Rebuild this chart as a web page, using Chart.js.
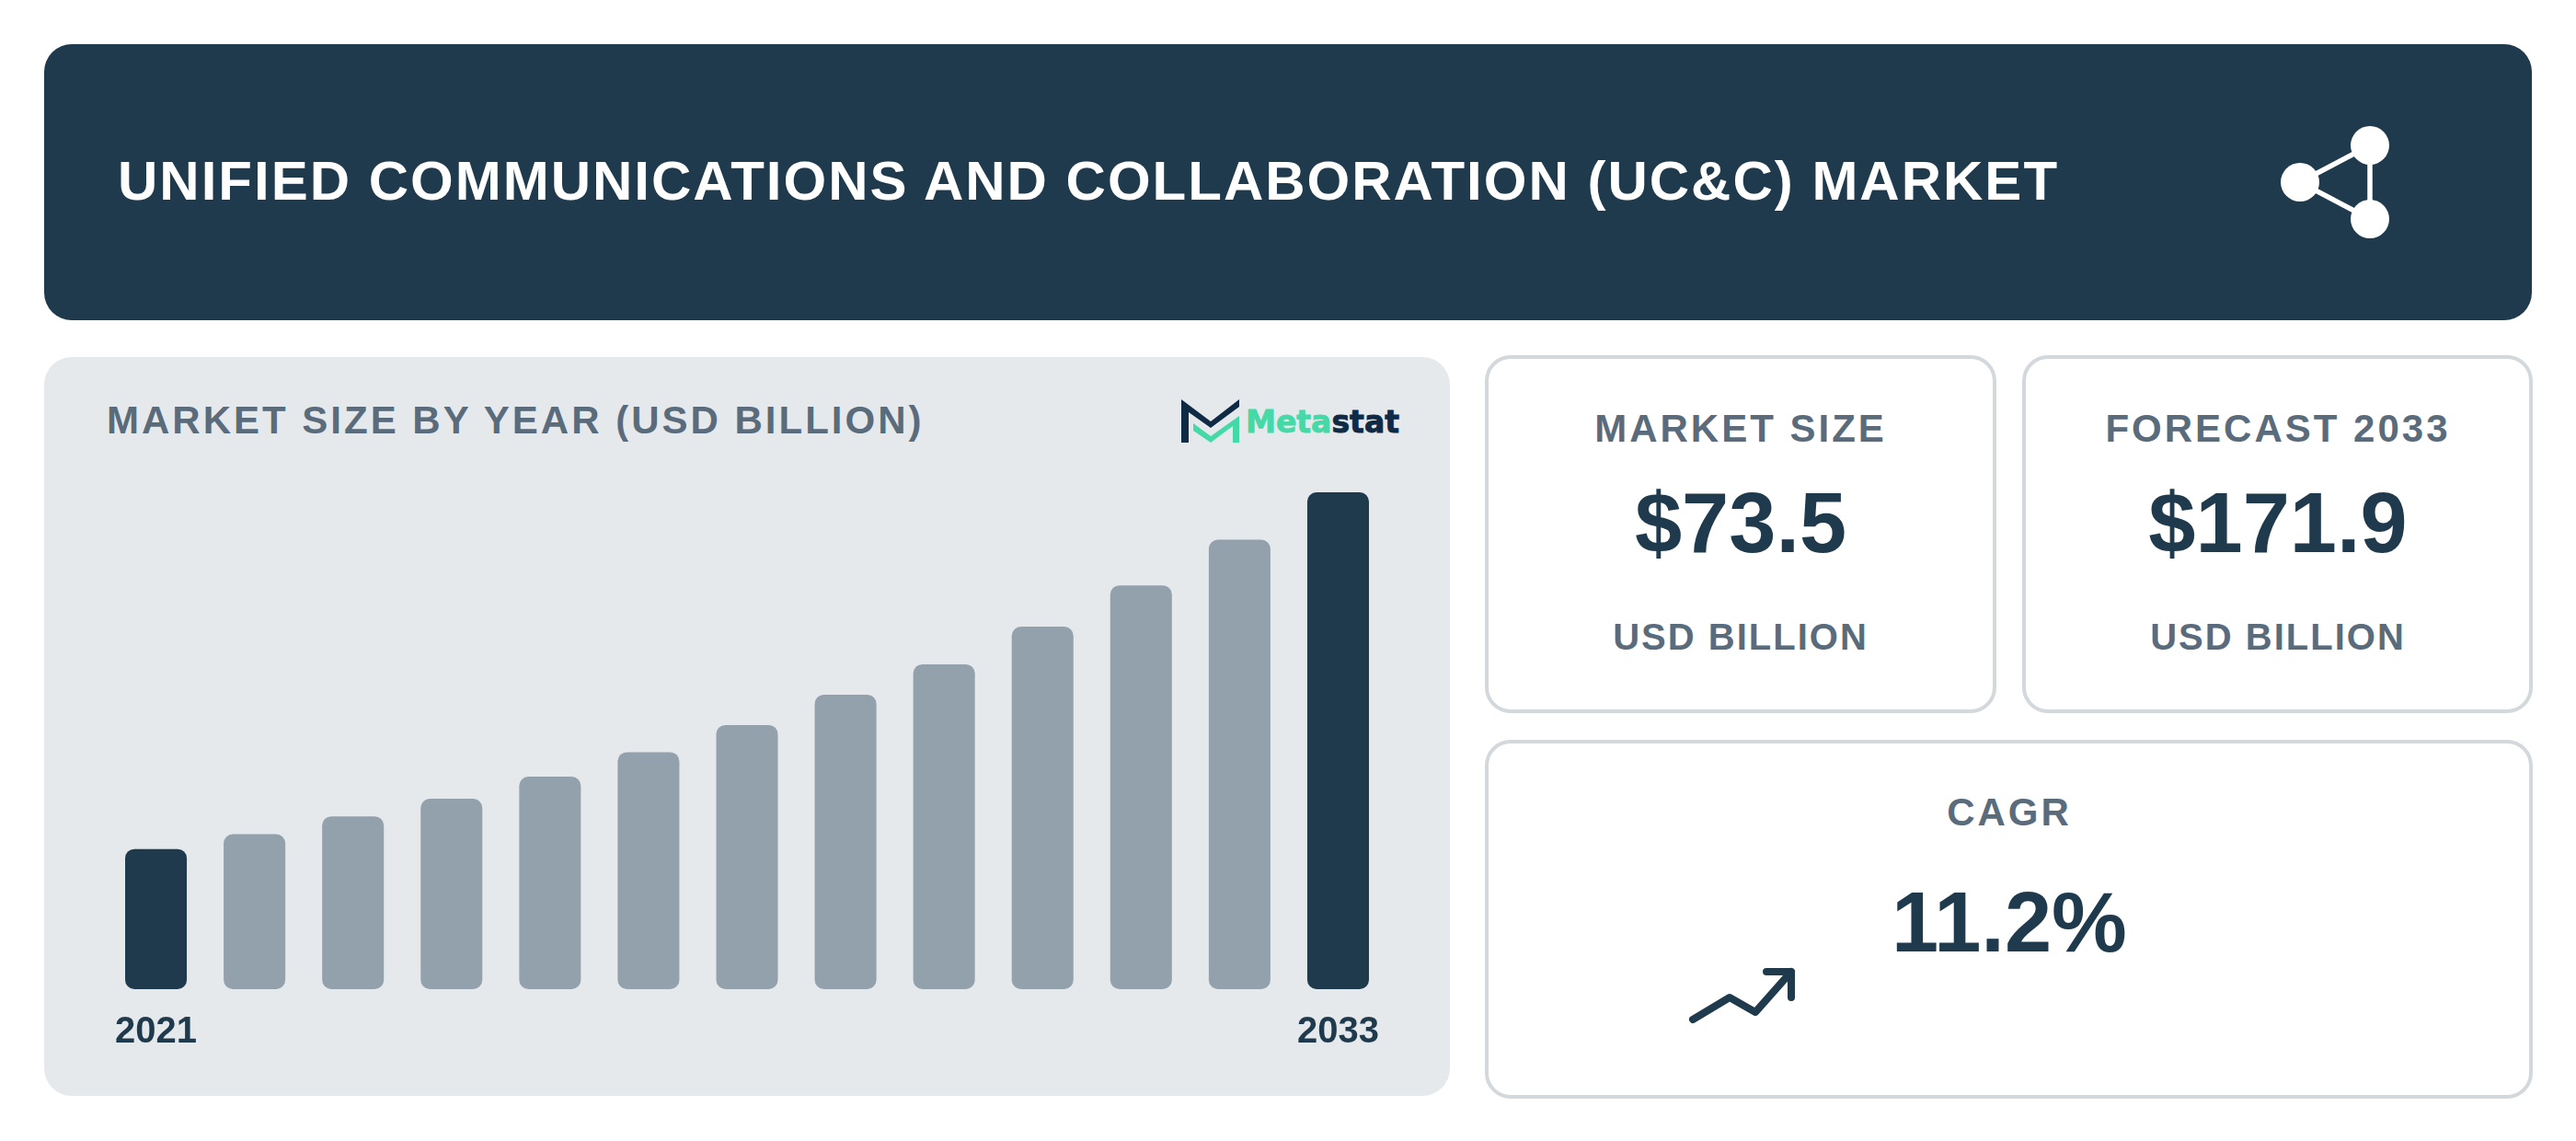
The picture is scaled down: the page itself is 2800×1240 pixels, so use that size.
<!DOCTYPE html>
<html><head><meta charset="utf-8">
<script src="https://cdn.jsdelivr.net/npm/chart.js@4"></script>
<style>
html,body{margin:0;padding:0;background:#fff;width:2800px;height:1240px;overflow:hidden;font-family:"Liberation Sans",Arial,sans-serif}
.box{position:absolute;box-sizing:border-box}
.t{position:absolute;white-space:nowrap;font-weight:700;line-height:1}
.c{text-align:center;transform:translateX(-50%)}
.card{background:#fff;border:4px solid #d3d8dc;border-radius:28px}
</style></head><body>
<div class="box" style="left:48px;top:48px;width:2704px;height:300px;background:#1f3a4d;border-radius:30px"></div>
<div class="t" id="hd" style="left:128px;top:167px;font-size:60px;letter-spacing:2px;color:#fff">UNIFIED COMMUNICATIONS AND COLLABORATION (UC&amp;C) MARKET</div>
<svg class="box" style="left:2400px;top:100px" width="240" height="200" viewBox="2400 100 240 200">
<g stroke="#fff" stroke-width="5.5"><line x1="2500" y1="198" x2="2576" y2="158"/><line x1="2500" y1="198" x2="2576" y2="238"/><line x1="2576" y1="158" x2="2576" y2="238"/></g>
<g fill="#fff"><circle cx="2500" cy="198" r="21"/><circle cx="2576" cy="158" r="21"/><circle cx="2576" cy="238" r="21"/></g></svg>

<div class="box" style="left:48px;top:388px;width:1528px;height:803px;background:#e5e9ec;border-radius:30px"></div>
<div class="t" style="left:116px;top:436px;font-size:42px;letter-spacing:3px;color:#5a6b7c">MARKET SIZE BY YEAR (USD BILLION)</div>
<svg class="box" style="left:1240px;top:400px" width="320" height="120" viewBox="0 0 320 120">
<path d="M44 34L76 58L107 34V42L76 65L52 48V81H44Z" fill="#0f2a45"/>
<path d="M57 60L76 74L107 52V81H100V63L76 81L57 68Z" fill="#46d9a8"/>
<text x="114" y="70" font-family="'DejaVu Sans'" font-weight="700" font-size="33" stroke-width="0.9" textLength="167" lengthAdjust="spacingAndGlyphs"><tspan fill="#46d9a8" stroke="#46d9a8">Meta</tspan><tspan fill="#0f2a45" stroke="#0f2a45">stat</tspan></text></svg>
<canvas id="chart" class="box" style="left:48px;top:500px;width:1528px;height:661px" width="1528" height="661"></canvas>

<div class="box card" style="left:1614px;top:386px;width:556px;height:389px"></div>
<div class="box card" style="left:2198px;top:386px;width:555px;height:389px"></div>
<div class="box card" style="left:1614px;top:803.5px;width:1139px;height:390px"></div>
<div class="t c" style="left:1892px;top:445px;font-size:42px;letter-spacing:3px;color:#5a6b7c">MARKET SIZE</div>
<div class="t c" style="left:2476px;top:445px;font-size:42px;letter-spacing:3px;color:#5a6b7c">FORECAST 2033</div>
<div class="t c" style="left:1892px;top:522px;font-size:92px;color:#1f3a4d">$73.5</div>
<div class="t c" style="left:2476px;top:522px;font-size:92px;color:#1f3a4d">$171.9</div>
<div class="t c" style="left:1892px;top:672px;font-size:40px;letter-spacing:2px;color:#5a6b7c">USD BILLION</div>
<div class="t c" style="left:2476px;top:672px;font-size:40px;letter-spacing:2px;color:#5a6b7c">USD BILLION</div>
<div class="t c" style="left:2184px;top:862px;font-size:42px;letter-spacing:3px;color:#5a6b7c">CAGR</div>
<div class="t c" style="left:2184px;top:956px;font-size:92px;color:#1f3a4d">11.2%</div>
<svg class="box" style="left:1800px;top:1020px" width="200" height="120" viewBox="0 0 200 120">
<path d="M40 88L80 64L108 80L147 36M120 36H147V64" fill="none" stroke="#1f3a4d" stroke-width="8" stroke-linecap="round" stroke-linejoin="round"/></svg>

<script>
const categories=["2021","2022","2023","2024","2025","2026","2027","2028","2029","2030","2031","2032","2033"];
const marketSize=[48.5,53.6,59.8,65.9,73.5,82.0,91.4,101.9,112.4,125.4,139.7,155.5,171.9];
const dark="#1f3a4d", light="#93a1ac";
new Chart(document.getElementById("chart"),{
  type:"bar",
  data:{labels:categories,datasets:[{data:marketSize,
    backgroundColor:categories.map((c,i)=>i===0||i===categories.length-1?dark:light),
    categoryPercentage:1,barPercentage:0.626,borderRadius:10,borderSkipped:false}]},
  options:{responsive:false,animation:false,devicePixelRatio:1,
    layout:{padding:{left:68,right:68,top:35,bottom:0}},
    plugins:{legend:{display:false},tooltip:{enabled:false}},
    scales:{
      y:{display:false,min:0,max:171.9},
      x:{grid:{display:false},border:{display:false},
         ticks:{autoSkip:false,maxRotation:0,padding:15,color:dark,
           font:{family:"'Liberation Sans'",weight:"700",size:40},
           callback:(v,i)=>i===0||i===categories.length-1?categories[i]:""}}
    }}
});
</script>
</body></html>
